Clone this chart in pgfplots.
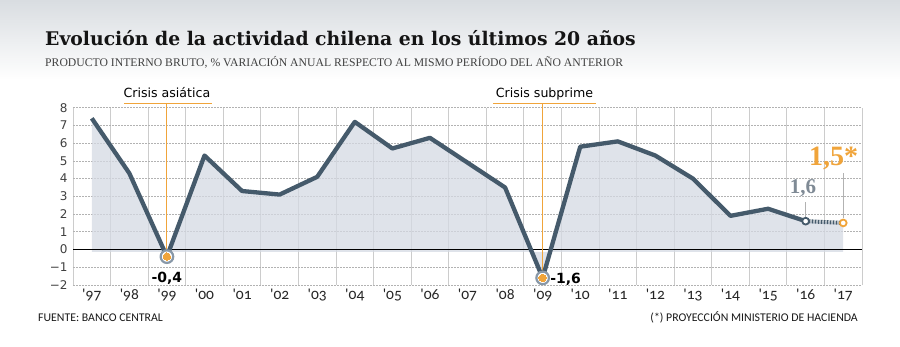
\documentclass[border=0pt]{standalone}
\usepackage{fontspec}
\usepackage{pgfplots}
\pgfplotsset{compat=1.18}
\setmainfont{DejaVu Sans}
\newfontfamily\titlefont{DejaVu Serif}
\newfontfamily\subfont{Liberation Serif}
\newfontfamily\xfont[Numbers=OldStyle,Ligatures=TeXOff]{Carlito}
\newfontfamily\footfont{Carlito}
\newfontfamily\vfont{DejaVu Sans}
\newfontfamily\numfont{Liberation Serif}
\definecolor{linec}{HTML}{455A6B}
\definecolor{fillc}{HTML}{D5DAE3}
\definecolor{orangec}{HTML}{F0A43A}
\definecolor{ringc}{HTML}{8898A8}
\definecolor{grayl}{HTML}{7F8A95}
\definecolor{headc}{HTML}{D9DDE1}
\begin{document}
\begin{tikzpicture}
\useasboundingbox (0,0) rectangle (900pt,347pt);
\fill[white] (0,0) rectangle (900pt,347pt);
\shade[top color=headc, bottom color=white] (0,267pt) rectangle (900pt,347pt);
\node[anchor=base west, font=\titlefont\bfseries\fontsize{18.8}{20}\selectfont, text=black!92, inner sep=0] at (45pt,301pt) {Evolución de la actividad chilena en los últimos 20 años};
\node[anchor=base west, font=\subfont\fontsize{11.7}{13}\selectfont, text=black!75, inner sep=0] at (45pt,280pt) {PRODUCTO INTERNO BRUTO, \% VARIACIÓN ANUAL RESPECTO AL MISMO PERÍODO DEL AÑO ANTERIOR};
\node[anchor=base west, font=\footfont\fontsize{11.8}{13}\selectfont, text=black!90, inner sep=0] at (38pt,25pt) {FUENTE: BANCO CENTRAL};
\node[anchor=base east, font=\footfont\fontsize{11.8}{13}\selectfont, text=black!90, inner sep=0] at (858pt,25pt) {(*) PROYECCIÓN MINISTERIO DE HACIENDA};
\begin{axis}[at={(73pt,62pt)}, anchor=south west, scale only axis,
  width=789pt, height=177.3pt,
  xmin=-0.5, xmax=20.5, ymin=-2, ymax=8, clip=false,
  axis line style={draw=none}, tick style={draw=none},
  xtick={0,...,20},
  xticklabels={'97,'98,'99,'00,'01,'02,'03,'04,'05,'06,'07,'08,'09,'10,'11,'12,'13,'14,'15,'16,'17},
  minor xtick={-0.5,0.5,...,20.5}, xminorgrids,
  ytick={-2,-1,0,1,2,3,4,5,6,7,8},
  yticklabels={−2,−1,0,1,2,3,4,5,6,7,8},
  ymajorgrids,
  minor grid style={color=gray!40, line width=0.8pt},
  major grid style={color=gray!60, dash pattern=on 1.5pt off 1.5pt, line width=0.7pt},
  xticklabel style={font=\xfont\fontsize{15.5}{15.5}\selectfont, text=black!85, yshift=-1pt},
  yticklabel style={font=\vfont\fontsize{12}{12}\selectfont, text=black!75, xshift=-2pt},
]
\addplot[draw=none, fill=fillc, fill opacity=0.75] coordinates {
 (0,-0.13) (0,7.4) (1,4.3) (2,-0.4) (3,5.3) (4,3.3) (5,3.1) (6,4.1) (7,7.2) (8,5.7) (9,6.3)
 (10,4.9) (11,3.5) (12,-1.6) (13,5.8) (14,6.1) (15,5.3) (16,4.0) (17,1.9) (18,2.3) (19,1.6) (20,1.5) (20,-0.13)} -- cycle;
\draw[black, line width=0.9pt] (axis cs:-0.5,0) -- (axis cs:20.5,0);
% annotations
\draw[orangec, line width=1pt] (axis cs:0.86,8.23) -- (axis cs:3.2,8.23);
\draw[orangec, line width=1pt] (axis cs:2,8.23) -- (axis cs:2,-0.4);
\node[anchor=base, font=\vfont\fontsize{12.6}{13}\selectfont, inner sep=0] at (axis cs:2,8.59) {Crisis asiática};
\draw[orangec, line width=1pt] (axis cs:10.69,8.23) -- (axis cs:13.41,8.23);
\draw[orangec, line width=1pt] (axis cs:12,8.23) -- (axis cs:12,-1.6);
\node[anchor=base, font=\vfont\fontsize{12.6}{13}\selectfont, inner sep=0] at (axis cs:12.05,8.59) {Crisis subprime};
\draw[gray!60, line width=1.3pt] (axis cs:19,2.68) -- (axis cs:19,1.82);
\draw[gray!60, line width=1.3pt] (axis cs:20,4.3) -- (axis cs:20,1.77);
% main line
\addplot[linec, line width=4.3pt, line join=round] coordinates {
 (0,7.4) (1,4.3) (2,-0.4) (3,5.3) (4,3.3) (5,3.1) (6,4.1) (7,7.2) (8,5.7) (9,6.3)
 (10,4.9) (11,3.5) (12,-1.6) (13,5.8) (14,6.1) (15,5.3) (16,4.0) (17,1.9) (18,2.3) (19,1.6)};
\addplot[linec, line width=4pt, dash pattern=on 1.8pt off 1.2pt] coordinates {(19,1.6) (20,1.5)};
% markers
\addplot[only marks, mark=*, mark size=6.3pt, mark options={fill=white, draw=ringc, line width=2.2pt}] coordinates {(2,-0.4) (12,-1.6)};
\addplot[only marks, mark=*, mark size=3.7pt, mark options={fill=orangec, draw=orangec, line width=0pt}] coordinates {(2,-0.4) (12,-1.6)};
\addplot[only marks, mark=*, mark size=3.4pt, mark options={fill=white, draw=linec, line width=1.8pt}] coordinates {(19,1.6)};
\addplot[only marks, mark=*, mark size=3.4pt, mark options={fill=white, draw=orangec, line width=1.8pt}] coordinates {(20,1.5)};
% value labels
\node[anchor=base, font=\vfont\bfseries\fontsize{14}{14}\selectfont, inner sep=0] at (axis cs:2,-1.88) {-0,4};
\node[anchor=base west, font=\vfont\bfseries\fontsize{14}{14}\selectfont, inner sep=0] at (axis cs:12.2,-1.92) {-1,6};
\node[anchor=base, font=\numfont\bfseries\fontsize{21}{21}\selectfont, text=grayl, inner sep=0] at (axis cs:18.93,3.18) {1,6};
\node[anchor=base east, font=\numfont\bfseries\fontsize{28}{28}\selectfont, text=orangec, inner sep=0] at (axis cs:20.4,4.75) {1,5*};
\end{axis}
\end{tikzpicture}
\end{document}
